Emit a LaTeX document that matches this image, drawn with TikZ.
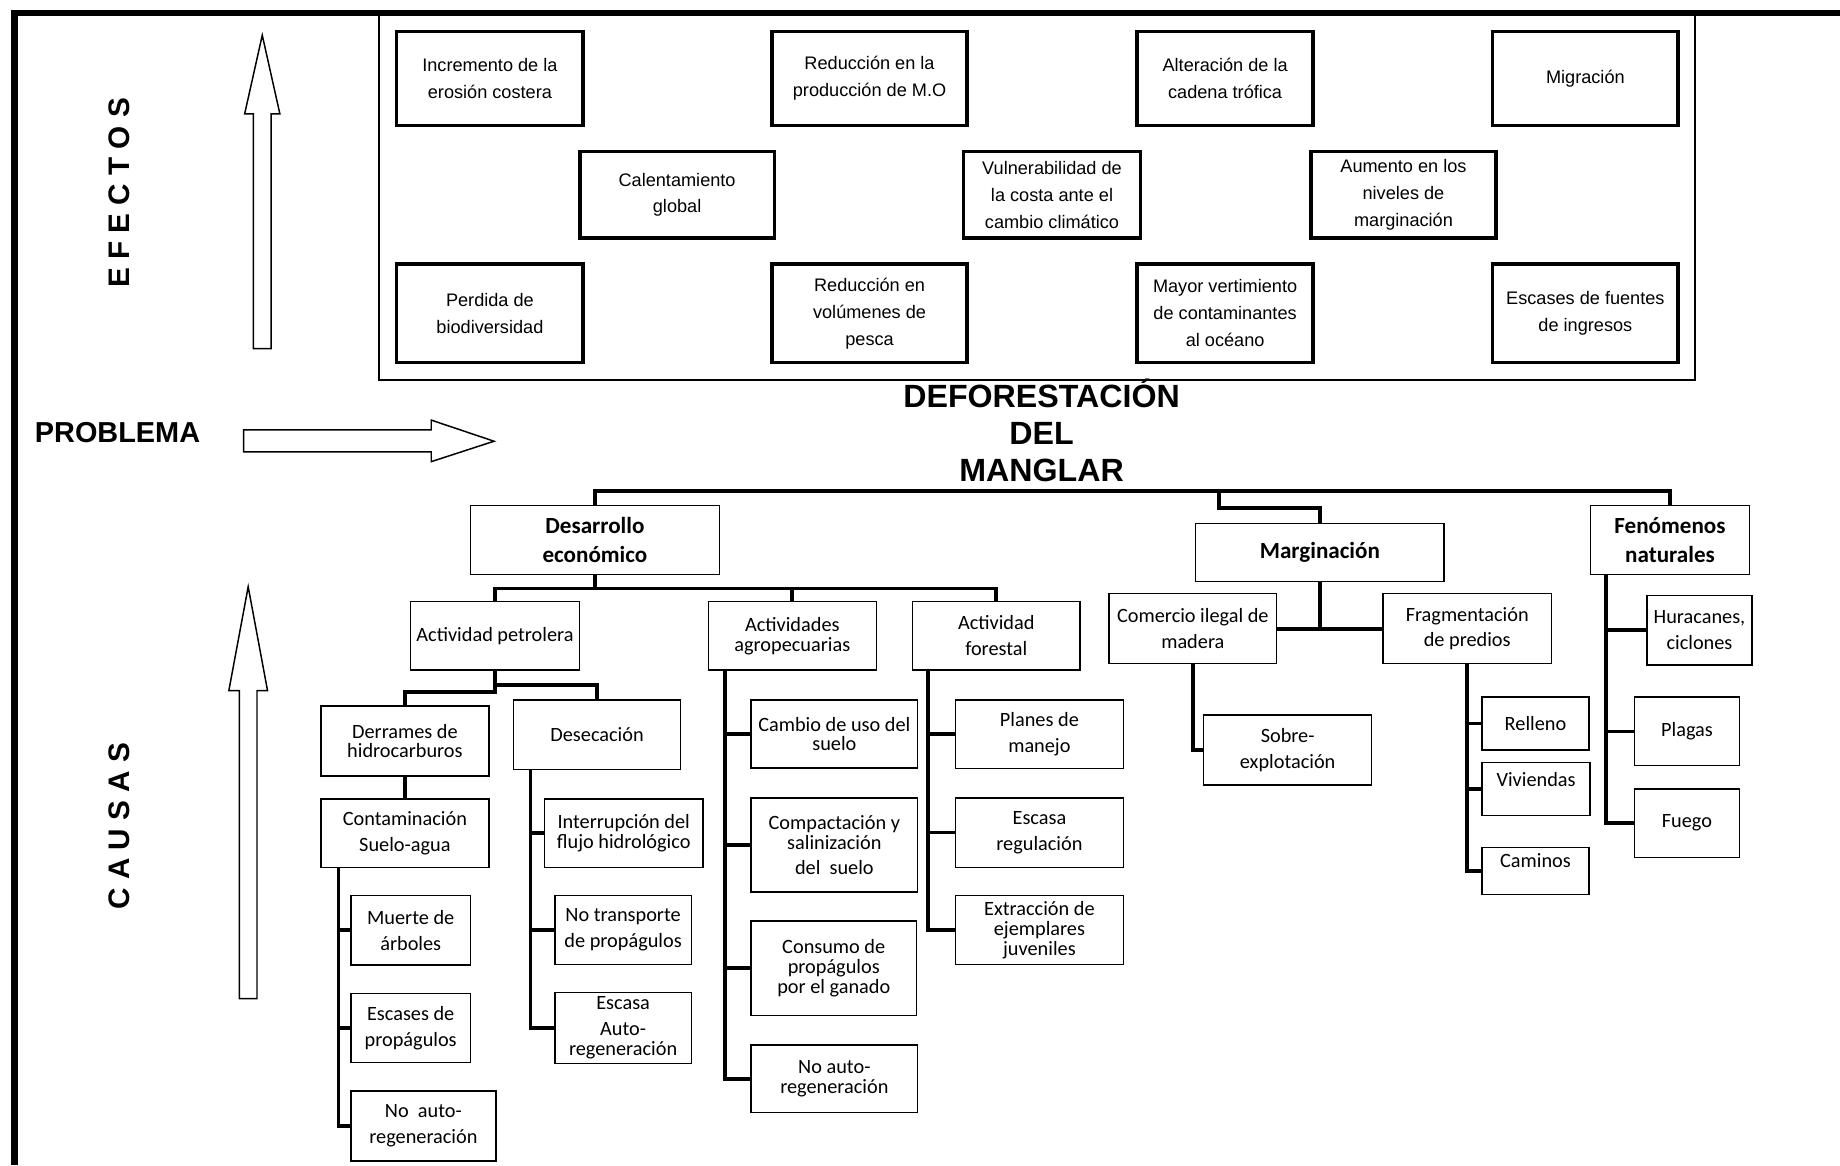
\documentclass[tikz,border=0pt]{standalone}
\usepackage{fontspec}
\setmainfont{Liberation Sans}
\newfontfamily\cfont{Carlito}
\usetikzlibrary{calc,fit,backgrounds}
\tikzset{
  ebox/.style={draw, line width=2.2pt, align=center, inner sep=1pt,
    font=\fontsize{11}{16.3}\selectfont},
  eband/.style={draw, line width=1.1pt, inner sep=0.33cm},
  chead/.style={draw, line width=0.8pt, align=center, inner sep=1pt,
    font=\cfont\bfseries\fontsize{14}{17.8}\selectfont},
  cbox/.style={draw, line width=0.8pt, align=center, inner sep=1pt,
    font=\cfont\fontsize{12.3}{15.6}\selectfont},
  ctight/.style={cbox, font=\cfont\fontsize{12.3}{12}\selectfont},
  wh/.style 2 args={minimum width=#1cm, minimum height=#2cm},
  clink/.style={line width=2.3pt},
  barrow/.style={draw, line width=0.9pt},
  sidelabel/.style={font=\bfseries\fontsize{18}{18}\selectfont, rotate=90},
  frameline/.style={line width=3.8pt},
}

\begin{document}
\begin{tikzpicture}
\useasboundingbox (0,0) rectangle (39.2,-24.825);

% outer frame
\draw[frameline] (39.2,-0.277) -- (0.309,-0.277) -- (0.309,-24.825);

% effects
\node[ebox,wh={3.975}{2.0}] (e1) at (10.4375,-1.675) {Incremento de la\\erosión costera};
\node[ebox,wh={4.15}{2.0}] (e2) at (18.525,-1.675) {Reducción en la\\producción de M.O};
\node[ebox,wh={3.75}{2.0}] (e3) at (26.1,-1.675) {Alteración de la\\cadena trófica};
\node[ebox,wh={3.95}{2.0}] (e4) at (33.775,-1.675) {Migración};
\node[ebox,wh={4.15}{1.85}] (e5) at (14.425,-4.15) {Calentamiento\\global};
\node[ebox,wh={3.775}{1.85}] (e6) at (22.4125,-4.15) {Vulnerabilidad de\\la costa ante el\\cambio climático};
\node[ebox,wh={3.95}{1.85}] (e7) at (29.9,-4.15) {Aumento en los\\niveles de\\marginación};
\node[ebox,wh={3.975}{2.1}] (e8) at (10.4375,-6.675) {Perdida de\\biodiversidad};
\node[ebox,wh={4.15}{2.1}] (e9) at (18.525,-6.675) {Reducción en\\volúmenes de\\pesca};
\node[ebox,wh={3.75}{2.1}] (e10) at (26.1,-6.675) {Mayor vertimiento\\de contaminantes\\al océano};
\node[ebox,wh={3.95}{2.1}] (e11) at (33.775,-6.675) {Escases de fuentes\\de ingresos};

\begin{pgfonlayer}{background}
  \node[eband, fit=(e1)(e4)(e8)(e11)] (effband) {};
\end{pgfonlayer}

% side labels and block arrows
\node[sidelabel] (efectos) at (2.55,-4.1125) {E F E C T O S};
\node[sidelabel] (causas) at (2.55,-17.6) {C A U S A S};
\node[font=\bfseries\fontsize{17.5}{17.5}\selectfont, anchor=base west] (problema) at (0.62,-9.4375) {PROBLEMA};

\draw[barrow] (5.4,-7.425) -- (5.4,-2.425) -- (5.2125,-2.425) -- (5.5875,-0.75)
  -- (5.9625,-2.425) -- (5.775,-2.425) -- (5.775,-7.425) -- cycle;
\draw[barrow] (5.1,-21.275) -- (5.1,-14.715) -- (4.875,-14.715) -- (5.2875,-12.5)
  -- (5.7,-14.715) -- (5.475,-14.715) -- (5.475,-21.275) -- cycle;
\draw[barrow] (5.1925,-9.16) -- (9.1875,-9.16) -- (9.1875,-8.95) -- (10.525,-9.4)
  -- (9.1875,-9.835) -- (9.1875,-9.625) -- (5.1925,-9.625) -- cycle;

% problem
\node[font=\bfseries\fontsize{19.5}{22.4}\selectfont, align=center] (title) at (22.19,-9.17)
  {DEFORESTACIÓN\\DEL\\MANGLAR};

% causes, first level
\node[chead,wh={5.3}{1.475}] (desa) at (12.675,-11.5) {Desarrollo\\económico};
\node[chead,wh={5.2875}{1.2425}] (marg) at (28.119,-11.771) {Marginación};
\node[chead,wh={3.375}{1.475}] (feno) at (35.578,-11.5) {Fenómenos\\naturales};

% desarrollo economico
\node[cbox,wh={3.59}{1.458}] (petro) at (10.545,-13.547) {Actividad petrolera};
\node[ctight,wh={3.576}{1.458}] (agro) at (16.879,-13.547) {Actividades\\agropecuarias};
\node[cbox,wh={3.565}{1.458}] (fore) at (21.225,-13.547) {Actividad\\forestal};

\node[ctight,wh={3.578}{1.49}] (derr) at (8.626,-15.786) {Derrames de\\hidrocarburos};
\node[cbox,wh={3.5625}{1.475}] (desec) at (12.72,-15.65) {Desecación};
\node[cbox,wh={3.578}{1.4525}] (cont) at (8.626,-17.75) {Contaminación\\Suelo-agua};
\node[cbox,wh={2.55}{1.485}] (muer) at (8.75,-19.818) {Muerte de\\árboles};
\node[cbox,wh={2.55}{1.48}] (escp) at (8.75,-21.9) {Escases de\\propágulos};
\node[cbox,wh={3.09}{1.49}] (noau1) at (9.02,-23.99) {No~ auto-\\regeneración};
\node[ctight,wh={3.375}{1.45}] (inte) at (13.2875,-17.75) {Interrupción del\\flujo hidrológico};
\node[cbox,wh={2.9}{1.475}] (notr) at (13.275,-19.8125) {No transporte\\de propágulos};
\node[ctight,wh={2.9}{1.5}] (esca) at (13.275,-21.9) {Escasa\\[3.6pt]Auto-\\regeneración};

\node[ctight,wh={3.55}{1.45}] (camb) at (17.775,-15.6375) {Cambio de uso del\\suelo};
\node[ctight,wh={3.55}{2.0}] (comp) at (17.775,-18.0) {Compactación y\\salinización\\[3pt]del~ suelo};
\node[ctight,wh={3.525}{2.0125}] (cons) at (17.7625,-20.63) {Consumo de\\propágulos\\por el ganado};
\node[ctight,wh={3.55}{1.4375}] (noau2) at (17.775,-22.98) {No auto-\\regeneración};

\node[cbox,wh={3.5875}{1.4625}] (plan) at (22.144,-15.644) {Planes de\\manejo};
\node[cbox,wh={3.5875}{1.475}] (regu) at (22.144,-17.7375) {Escasa\\regulación};
\node[ctight,wh={3.5875}{1.475}] (extr) at (22.144,-19.8125) {Extracción de\\ejemplares\\juveniles};

% marginacion
\node[cbox,wh={3.575}{1.4875}] (comer) at (25.4125,-13.394) {Comercio ilegal de\\madera};
\node[cbox,wh={3.585}{1.4875}] (frag) at (31.2575,-13.394) {Fragmentación\\de predios};
\node[cbox,wh={3.585}{1.49}] (sobr) at (27.4325,-15.98) {Sobre-\\explotación};
\node[cbox,wh={2.275}{1.125}] (rell) at (32.7125,-15.4125) {Relleno};
\node[cbox,wh={2.3}{1.125},text depth=12pt] (vivi) at (32.725,-16.8125) {Viviendas};
\node[cbox,wh={2.275}{1.0},text depth=12pt] (cami) at (32.7125,-18.55) {Caminos};

% fenomenos naturales
\node[cbox,wh={2.2375}{1.4775}] (hura) at (36.206,-13.429) {Huracanes,\\ciclones};
\node[cbox,wh={2.25}{1.465}] (plag) at (35.94,-15.5825) {Plagas};
\node[cbox,wh={2.25}{1.4525}] (fueg) at (35.94,-17.536) {Fuego};

% tree links
\draw[clink] (desa.north) -- ++(0,0.29) -| (feno.north);
\coordinate (mstub) at (25.975,-10.42);
\draw[clink] (mstub) -- ++(0,-0.405) -| (marg.north);

\draw[clink] (desa.south) -- ++(0,-0.285) coordinate (dj) -| (petro.north);
\draw[clink] (dj) -| (agro.north);
\draw[clink] (dj) -| (fore.north);

\draw[clink] (petro.south) -- ++(0,-0.3) -| (desec.north);
\draw[clink] (petro.south) -- ++(0,-0.46) -| (derr.north);
\draw[clink] (derr.south) -- (cont.north);

\draw[clink] ($(cont.south west)+(0.39,0)$) |- (noau1.west);
\draw[clink] ($(cont.south west)+(0.39,0)$) |- (muer.west);
\draw[clink] ($(cont.south west)+(0.39,0)$) |- (escp.west);

\draw[clink] ($(desec.south west)+(0.375,0)$) |- (esca.west);
\draw[clink] ($(desec.south west)+(0.375,0)$) |- (inte.west);
\draw[clink] ($(desec.south west)+(0.375,0)$) |- (notr.west);

\draw[clink] ($(agro.south west)+(0.375,0)$) |- (noau2.west);
\draw[clink] ($(agro.south west)+(0.375,0)$) |- (camb.west);
\draw[clink] ($(agro.south west)+(0.375,0)$) |- (comp.west);
\draw[clink] ($(agro.south west)+(0.375,0)$) |- (cons.west);

\draw[clink] ($(fore.south west)+(0.35,0)$) |- (extr.west);
\draw[clink] ($(fore.south west)+(0.35,0)$) |- (plan.west);
\draw[clink] ($(fore.south west)+(0.35,0)$) |- (regu.west);

\draw[clink] (comer.east) -- (frag.west);
\draw[clink] (marg.south) -- (marg.south |- comer.east);
\draw[clink] (comer.south) |- (sobr.west);
\draw[clink] (frag.south) |- (cami.west);
\draw[clink] (frag.south) |- (rell.west);
\draw[clink] (frag.south) |- (vivi.west);

\draw[clink] ($(feno.south west)+(0.335,0)$) |- (fueg.west);
\draw[clink] ($(feno.south west)+(0.335,0)$) |- (hura.west);
\draw[clink] ($(feno.south west)+(0.335,0)$) |- (plag.west);

\end{tikzpicture}
\end{document}
